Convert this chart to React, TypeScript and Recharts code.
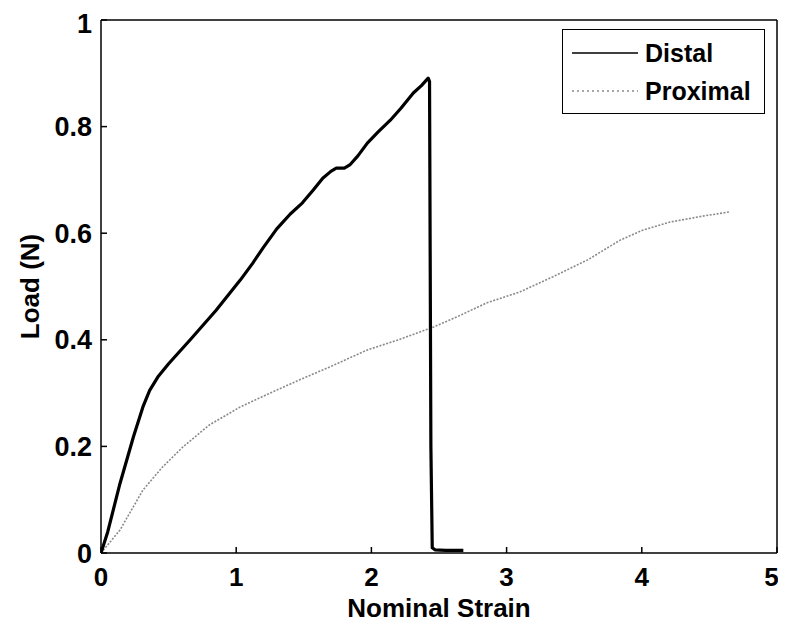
import React from 'react';
import { LineChart, Line, XAxis, YAxis, Legend } from 'recharts';

const distalStrain = [0, 0.05, 0.14, 0.24, 0.31, 0.36, 0.42, 0.5, 0.66, 0.85, 1.03, 1.12, 1.2, 1.3, 1.4, 1.49, 1.57, 1.64, 1.7, 1.74, 1.8, 1.84, 1.9, 1.97, 2.05, 2.14, 2.22, 2.31, 2.37, 2.42, 2.43, 2.44, 2.45, 2.47, 2.55, 2.68];
const distalLoad = [0, 0.04, 0.13, 0.218, 0.274, 0.305, 0.33, 0.355, 0.4, 0.455, 0.512, 0.543, 0.573, 0.608, 0.636, 0.657, 0.681, 0.703, 0.716, 0.722, 0.722, 0.728, 0.745, 0.769, 0.79, 0.812, 0.835, 0.863, 0.877, 0.891, 0.885, 0.2, 0.01, 0.006, 0.005, 0.005];

const proximalStrain = [0, 0.14, 0.31, 0.45, 0.61, 0.8, 1.03, 1.25, 1.47, 1.7, 1.97, 2.2, 2.46, 2.65, 2.85, 3.1, 3.34, 3.6, 3.84, 4.0, 4.21, 4.45, 4.65];
const proximalLoad = [0, 0.043, 0.118, 0.16, 0.2, 0.24, 0.274, 0.3, 0.325, 0.35, 0.381, 0.4, 0.424, 0.445, 0.469, 0.49, 0.518, 0.55, 0.587, 0.605, 0.621, 0.632, 0.64];

const xTicks = [0, 1, 2, 3, 4, 5];
const yTicks = [0, 0.2, 0.4, 0.6, 0.8, 1];
const yTickLabels = ['0', '0.2', '0.4', '0.6', '0.8', '1'];

const seriesNames = ['Distal', 'Proximal'];

const distalData = distalStrain.map((x, i) => ({ x, y: distalLoad[i] }));
const proximalData = proximalStrain.map((x, i) => ({ x, y: proximalLoad[i] }));

const FONT = '"Liberation Sans", Arial, Helvetica, sans-serif';
const AXIS_STROKE = { stroke: '#000', strokeWidth: 1.5 };

const LegendBox = () => (
  <div
    style={{
      width: 201,
      height: 83,
      border: '1.5px solid #000',
      background: '#fff',
      fontFamily: FONT,
      fontWeight: 'bold',
      fontSize: 25,
      color: '#000',
      position: 'relative',
    }}
  >
    {seriesNames.map((name, i) => (
      <div
        key={name}
        style={{
          position: 'absolute',
          left: 9,
          top: i === 0 ? 8 : 46,
          height: 30,
          display: 'flex',
          alignItems: 'center',
        }}
      >
        <svg width={66} height={10} style={{ marginRight: 7 }}>
          {i === 0 ? (
            <line x1={0} y1={5} x2={66} y2={5} stroke="#000" strokeWidth={1.5} />
          ) : (
            <line x1={0} y1={5} x2={66} y2={5} stroke="#8a8a8a" strokeWidth={1.3} strokeDasharray="2 3" />
          )}
        </svg>
        <span style={{ lineHeight: '30px' }}>{name}</span>
      </div>
    ))}
  </div>
);

export default function App() {
  return (
    <LineChart
      width={770}
      height={615}
      margin={{ top: 0, right: 0, left: 0, bottom: 8 }}
      style={{ fontFamily: FONT }}
    >
      <XAxis
        xAxisId="x"
        dataKey="x"
        type="number"
        domain={[0, 5]}
        ticks={xTicks}
        allowDataOverflow
        height={62}
        tickSize={-6}
        tickMargin={21}
        axisLine={AXIS_STROKE}
        tickLine={AXIS_STROKE}
        tick={{ fill: '#000', fontSize: 26, fontWeight: 'bold', fontFamily: FONT }}
        label={({ viewBox }: any) => (
          <text
            x={viewBox.x + viewBox.width / 2}
            y={viewBox.y + 64}
            textAnchor="middle"
            fontSize={26}
            fontWeight="bold"
            fontFamily={FONT}
            fill="#000"
          >
            Nominal Strain
          </text>
        )}
      />
      <XAxis
        xAxisId="xt"
        dataKey="x"
        type="number"
        domain={[0, 5]}
        ticks={xTicks}
        allowDataOverflow
        orientation="top"
        height={12}
        tick={false}
        tickSize={-6}
        axisLine={AXIS_STROKE}
        tickLine={AXIS_STROKE}
      />
      <YAxis
        yAxisId="y"
        dataKey="y"
        type="number"
        domain={[0, 1]}
        ticks={yTicks}
        allowDataOverflow
        width={93}
        tickSize={-6}
        tickMargin={15}
        axisLine={AXIS_STROKE}
        tickLine={AXIS_STROKE}
        tickFormatter={(v: number) => yTickLabels[yTicks.indexOf(v)] ?? String(v)}
        tick={{ fill: '#000', fontSize: 27, fontWeight: 'bold', fontFamily: FONT }}
        label={({ viewBox }: any) => {
          const cx = viewBox.x + 22;
          const cy = viewBox.y + viewBox.height / 2;
          return (
            <text
              x={cx}
              y={cy}
              transform={`rotate(-90 ${cx} ${cy})`}
              textAnchor="middle"
              dominantBaseline="central"
              fontSize={26}
              fontWeight="bold"
              fontFamily={FONT}
              fill="#000"
            >
              Load (N)
            </text>
          );
        }}
      />
      <YAxis
        yAxisId="yr"
        dataKey="y"
        type="number"
        domain={[0, 1]}
        ticks={yTicks}
        allowDataOverflow
        orientation="right"
        width={1}
        tick={false}
        tickSize={-6}
        axisLine={AXIS_STROKE}
        tickLine={AXIS_STROKE}
      />
      <Legend
        layout="vertical"
        align="center"
        verticalAlign="middle"
        wrapperStyle={{ top: 21, left: 554, width: 204, height: 86 }}
        content={() => <LegendBox />}
      />
      <Line
        xAxisId="xt"
        yAxisId="yr"
        data={proximalData}
        dataKey="y"
        stroke="none"
        dot={false}
        legendType="none"
        isAnimationActive={false}
      />
      <Line
        xAxisId="x"
        yAxisId="y"
        data={proximalData}
        dataKey="y"
        name="Proximal"
        type="linear"
        stroke="#8a8a8a"
        strokeWidth={1.6}
        strokeDasharray="2 1.5"
        dot={false}
        isAnimationActive={false}
      />
      <Line
        xAxisId="x"
        yAxisId="y"
        data={distalData}
        dataKey="y"
        name="Distal"
        type="linear"
        stroke="#000"
        strokeWidth={3.2}
        strokeLinejoin="round"
        dot={false}
        isAnimationActive={false}
      />
    </LineChart>
  );
}
